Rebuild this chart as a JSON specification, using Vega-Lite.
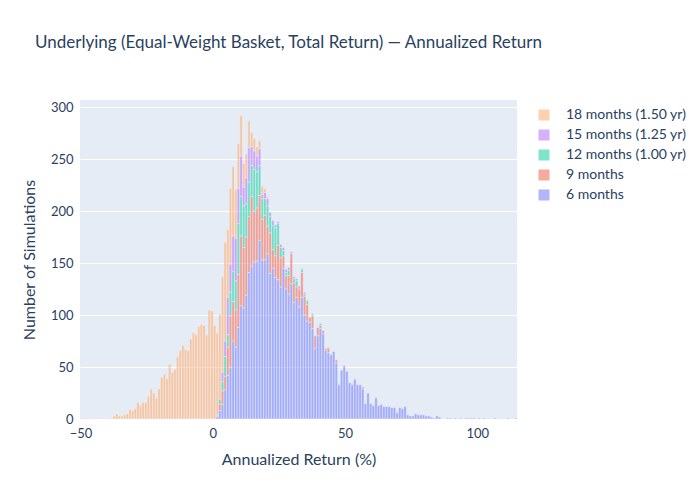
{
  "$schema": "https://vega.github.io/schema/vega-lite/v6.json",
  "width": 437,
  "height": 319,
  "autosize": {"type": "none"},
  "padding": {"left": 80, "top": 100, "right": 183, "bottom": 81},
  "background": "white",
  "title": {
    "text": "Underlying (Equal-Weight Basket, Total Return) — Annualized Return",
    "anchor": "start",
    "frame": "group",
    "dx": -45,
    "offset": 48,
    "fontSize": 17,
    "fontWeight": "normal",
    "color": "#2a3f5f"
  },
  "data": {
    "values": [
      {"series": "18 months (1.50 yr)", "months": 18, "bin": -50, "count": 1},
      {"series": "18 months (1.50 yr)", "months": 18, "bin": -49, "count": 1},
      {"series": "18 months (1.50 yr)", "months": 18, "bin": -45, "count": 1},
      {"series": "18 months (1.50 yr)", "months": 18, "bin": -43, "count": 1},
      {"series": "18 months (1.50 yr)", "months": 18, "bin": -39, "count": 1},
      {"series": "18 months (1.50 yr)", "months": 18, "bin": -38, "count": 3},
      {"series": "18 months (1.50 yr)", "months": 18, "bin": -37, "count": 5},
      {"series": "18 months (1.50 yr)", "months": 18, "bin": -36, "count": 3},
      {"series": "18 months (1.50 yr)", "months": 18, "bin": -35, "count": 3},
      {"series": "18 months (1.50 yr)", "months": 18, "bin": -34, "count": 4},
      {"series": "18 months (1.50 yr)", "months": 18, "bin": -33, "count": 5},
      {"series": "18 months (1.50 yr)", "months": 18, "bin": -32, "count": 9},
      {"series": "18 months (1.50 yr)", "months": 18, "bin": -31, "count": 8},
      {"series": "18 months (1.50 yr)", "months": 18, "bin": -30, "count": 10},
      {"series": "18 months (1.50 yr)", "months": 18, "bin": -29, "count": 16},
      {"series": "18 months (1.50 yr)", "months": 18, "bin": -28, "count": 13},
      {"series": "18 months (1.50 yr)", "months": 18, "bin": -27, "count": 16},
      {"series": "18 months (1.50 yr)", "months": 18, "bin": -26, "count": 16},
      {"series": "18 months (1.50 yr)", "months": 18, "bin": -25, "count": 22},
      {"series": "18 months (1.50 yr)", "months": 18, "bin": -24, "count": 29},
      {"series": "18 months (1.50 yr)", "months": 18, "bin": -23, "count": 25},
      {"series": "18 months (1.50 yr)", "months": 18, "bin": -22, "count": 20},
      {"series": "18 months (1.50 yr)", "months": 18, "bin": -21, "count": 29},
      {"series": "18 months (1.50 yr)", "months": 18, "bin": -20, "count": 40},
      {"series": "18 months (1.50 yr)", "months": 18, "bin": -19, "count": 43},
      {"series": "18 months (1.50 yr)", "months": 18, "bin": -18, "count": 39},
      {"series": "18 months (1.50 yr)", "months": 18, "bin": -17, "count": 53},
      {"series": "18 months (1.50 yr)", "months": 18, "bin": -16, "count": 45},
      {"series": "18 months (1.50 yr)", "months": 18, "bin": -15, "count": 48},
      {"series": "18 months (1.50 yr)", "months": 18, "bin": -14, "count": 60},
      {"series": "18 months (1.50 yr)", "months": 18, "bin": -13, "count": 66},
      {"series": "18 months (1.50 yr)", "months": 18, "bin": -12, "count": 71},
      {"series": "18 months (1.50 yr)", "months": 18, "bin": -11, "count": 67},
      {"series": "18 months (1.50 yr)", "months": 18, "bin": -10, "count": 66},
      {"series": "18 months (1.50 yr)", "months": 18, "bin": -9, "count": 77},
      {"series": "18 months (1.50 yr)", "months": 18, "bin": -8, "count": 83},
      {"series": "18 months (1.50 yr)", "months": 18, "bin": -7, "count": 81},
      {"series": "18 months (1.50 yr)", "months": 18, "bin": -6, "count": 89},
      {"series": "18 months (1.50 yr)", "months": 18, "bin": -5, "count": 91},
      {"series": "18 months (1.50 yr)", "months": 18, "bin": -4, "count": 90},
      {"series": "18 months (1.50 yr)", "months": 18, "bin": -3, "count": 81},
      {"series": "18 months (1.50 yr)", "months": 18, "bin": -2, "count": 105},
      {"series": "18 months (1.50 yr)", "months": 18, "bin": -1, "count": 104},
      {"series": "18 months (1.50 yr)", "months": 18, "bin": 0, "count": 90},
      {"series": "18 months (1.50 yr)", "months": 18, "bin": 1, "count": 79},
      {"series": "18 months (1.50 yr)", "months": 18, "bin": 2, "count": 82},
      {"series": "18 months (1.50 yr)", "months": 18, "bin": 3, "count": 92},
      {"series": "18 months (1.50 yr)", "months": 18, "bin": 4, "count": 95},
      {"series": "18 months (1.50 yr)", "months": 18, "bin": 5, "count": 65},
      {"series": "18 months (1.50 yr)", "months": 18, "bin": 6, "count": 73},
      {"series": "18 months (1.50 yr)", "months": 18, "bin": 7, "count": 67},
      {"series": "18 months (1.50 yr)", "months": 18, "bin": 8, "count": 47},
      {"series": "18 months (1.50 yr)", "months": 18, "bin": 9, "count": 43},
      {"series": "18 months (1.50 yr)", "months": 18, "bin": 10, "count": 39},
      {"series": "18 months (1.50 yr)", "months": 18, "bin": 11, "count": 23},
      {"series": "18 months (1.50 yr)", "months": 18, "bin": 12, "count": 23},
      {"series": "18 months (1.50 yr)", "months": 18, "bin": 13, "count": 26},
      {"series": "18 months (1.50 yr)", "months": 18, "bin": 14, "count": 14},
      {"series": "18 months (1.50 yr)", "months": 18, "bin": 15, "count": 12},
      {"series": "18 months (1.50 yr)", "months": 18, "bin": 16, "count": 9},
      {"series": "18 months (1.50 yr)", "months": 18, "bin": 17, "count": 8},
      {"series": "18 months (1.50 yr)", "months": 18, "bin": 18, "count": 8},
      {"series": "18 months (1.50 yr)", "months": 18, "bin": 19, "count": 4},
      {"series": "18 months (1.50 yr)", "months": 18, "bin": 20, "count": 2},

      {"series": "15 months (1.25 yr)", "months": 15, "bin": 3, "count": 9},
      {"series": "15 months (1.25 yr)", "months": 15, "bin": 4, "count": 15},
      {"series": "15 months (1.25 yr)", "months": 15, "bin": 5, "count": 36},
      {"series": "15 months (1.25 yr)", "months": 15, "bin": 6, "count": 27},
      {"series": "15 months (1.25 yr)", "months": 15, "bin": 7, "count": 34},
      {"series": "15 months (1.25 yr)", "months": 15, "bin": 8, "count": 41},
      {"series": "15 months (1.25 yr)", "months": 15, "bin": 9, "count": 34},
      {"series": "15 months (1.25 yr)", "months": 15, "bin": 10, "count": 39},
      {"series": "15 months (1.25 yr)", "months": 15, "bin": 11, "count": 18},
      {"series": "15 months (1.25 yr)", "months": 15, "bin": 12, "count": 25},
      {"series": "15 months (1.25 yr)", "months": 15, "bin": 13, "count": 33},
      {"series": "15 months (1.25 yr)", "months": 15, "bin": 14, "count": 18},
      {"series": "15 months (1.25 yr)", "months": 15, "bin": 15, "count": 18},
      {"series": "15 months (1.25 yr)", "months": 15, "bin": 16, "count": 15},
      {"series": "15 months (1.25 yr)", "months": 15, "bin": 17, "count": 16},
      {"series": "15 months (1.25 yr)", "months": 15, "bin": 18, "count": 4},
      {"series": "15 months (1.25 yr)", "months": 15, "bin": 19, "count": 6},
      {"series": "15 months (1.25 yr)", "months": 15, "bin": 20, "count": 7},
      {"series": "15 months (1.25 yr)", "months": 15, "bin": 21, "count": 4},
      {"series": "15 months (1.25 yr)", "months": 15, "bin": 22, "count": 5},
      {"series": "15 months (1.25 yr)", "months": 15, "bin": 23, "count": 3},
      {"series": "15 months (1.25 yr)", "months": 15, "bin": 24, "count": 2},
      {"series": "15 months (1.25 yr)", "months": 15, "bin": 25, "count": 3},
      {"series": "15 months (1.25 yr)", "months": 15, "bin": 26, "count": 3},
      {"series": "15 months (1.25 yr)", "months": 15, "bin": 27, "count": 3},
      {"series": "15 months (1.25 yr)", "months": 15, "bin": 28, "count": 3},
      {"series": "15 months (1.25 yr)", "months": 15, "bin": 29, "count": 2},
      {"series": "15 months (1.25 yr)", "months": 15, "bin": 30, "count": 2},
      {"series": "15 months (1.25 yr)", "months": 15, "bin": 31, "count": 2},
      {"series": "15 months (1.25 yr)", "months": 15, "bin": 32, "count": 3},
      {"series": "15 months (1.25 yr)", "months": 15, "bin": 33, "count": 1},
      {"series": "15 months (1.25 yr)", "months": 15, "bin": 34, "count": 2},
      {"series": "15 months (1.25 yr)", "months": 15, "bin": 35, "count": 1},
      {"series": "15 months (1.25 yr)", "months": 15, "bin": 37, "count": 1},

      {"series": "12 months (1.00 yr)", "months": 12, "bin": 1, "count": 1},
      {"series": "12 months (1.00 yr)", "months": 12, "bin": 2, "count": 5},
      {"series": "12 months (1.00 yr)", "months": 12, "bin": 3, "count": 9},
      {"series": "12 months (1.00 yr)", "months": 12, "bin": 4, "count": 19},
      {"series": "12 months (1.00 yr)", "months": 12, "bin": 5, "count": 12},
      {"series": "12 months (1.00 yr)", "months": 12, "bin": 6, "count": 23},
      {"series": "12 months (1.00 yr)", "months": 12, "bin": 7, "count": 29},
      {"series": "12 months (1.00 yr)", "months": 12, "bin": 8, "count": 28},
      {"series": "12 months (1.00 yr)", "months": 12, "bin": 9, "count": 49},
      {"series": "12 months (1.00 yr)", "months": 12, "bin": 10, "count": 38},
      {"series": "12 months (1.00 yr)", "months": 12, "bin": 11, "count": 40},
      {"series": "12 months (1.00 yr)", "months": 12, "bin": 12, "count": 32},
      {"series": "12 months (1.00 yr)", "months": 12, "bin": 13, "count": 33},
      {"series": "12 months (1.00 yr)", "months": 12, "bin": 14, "count": 30},
      {"series": "12 months (1.00 yr)", "months": 12, "bin": 15, "count": 40},
      {"series": "12 months (1.00 yr)", "months": 12, "bin": 16, "count": 35},
      {"series": "12 months (1.00 yr)", "months": 12, "bin": 17, "count": 29},
      {"series": "12 months (1.00 yr)", "months": 12, "bin": 18, "count": 20},
      {"series": "12 months (1.00 yr)", "months": 12, "bin": 19, "count": 16},
      {"series": "12 months (1.00 yr)", "months": 12, "bin": 20, "count": 20},
      {"series": "12 months (1.00 yr)", "months": 12, "bin": 21, "count": 16},
      {"series": "12 months (1.00 yr)", "months": 12, "bin": 22, "count": 23},
      {"series": "12 months (1.00 yr)", "months": 12, "bin": 23, "count": 27},
      {"series": "12 months (1.00 yr)", "months": 12, "bin": 24, "count": 21},
      {"series": "12 months (1.00 yr)", "months": 12, "bin": 25, "count": 10},
      {"series": "12 months (1.00 yr)", "months": 12, "bin": 26, "count": 5},
      {"series": "12 months (1.00 yr)", "months": 12, "bin": 27, "count": 3},
      {"series": "12 months (1.00 yr)", "months": 12, "bin": 28, "count": 5},
      {"series": "12 months (1.00 yr)", "months": 12, "bin": 30, "count": 4},
      {"series": "12 months (1.00 yr)", "months": 12, "bin": 31, "count": 6},
      {"series": "12 months (1.00 yr)", "months": 12, "bin": 33, "count": 3},
      {"series": "12 months (1.00 yr)", "months": 12, "bin": 34, "count": 2},
      {"series": "12 months (1.00 yr)", "months": 12, "bin": 35, "count": 4},
      {"series": "12 months (1.00 yr)", "months": 12, "bin": 37, "count": 2},
      {"series": "12 months (1.00 yr)", "months": 12, "bin": 40, "count": 2},
      {"series": "12 months (1.00 yr)", "months": 12, "bin": 43, "count": 1},
      {"series": "12 months (1.00 yr)", "months": 12, "bin": 47, "count": 1},
      {"series": "12 months (1.00 yr)", "months": 12, "bin": 52, "count": 1},

      {"series": "9 months", "months": 9, "bin": 1, "count": 1},
      {"series": "9 months", "months": 9, "bin": 2, "count": 6},
      {"series": "9 months", "months": 9, "bin": 3, "count": 13},
      {"series": "9 months", "months": 9, "bin": 4, "count": 13},
      {"series": "9 months", "months": 9, "bin": 5, "count": 27},
      {"series": "9 months", "months": 9, "bin": 6, "count": 49},
      {"series": "9 months", "months": 9, "bin": 7, "count": 38},
      {"series": "9 months", "months": 9, "bin": 8, "count": 36},
      {"series": "9 months", "months": 9, "bin": 9, "count": 51},
      {"series": "9 months", "months": 9, "bin": 10, "count": 67},
      {"series": "9 months", "months": 9, "bin": 11, "count": 58},
      {"series": "9 months", "months": 9, "bin": 12, "count": 56},
      {"series": "9 months", "months": 9, "bin": 13, "count": 54},
      {"series": "9 months", "months": 9, "bin": 14, "count": 67},
      {"series": "9 months", "months": 9, "bin": 15, "count": 49},
      {"series": "9 months", "months": 9, "bin": 16, "count": 51},
      {"series": "9 months", "months": 9, "bin": 17, "count": 43},
      {"series": "9 months", "months": 9, "bin": 18, "count": 39},
      {"series": "9 months", "months": 9, "bin": 19, "count": 43},
      {"series": "9 months", "months": 9, "bin": 20, "count": 26},
      {"series": "9 months", "months": 9, "bin": 21, "count": 39},
      {"series": "9 months", "months": 9, "bin": 22, "count": 18},
      {"series": "9 months", "months": 9, "bin": 23, "count": 21},
      {"series": "9 months", "months": 9, "bin": 24, "count": 33},
      {"series": "9 months", "months": 9, "bin": 25, "count": 28},
      {"series": "9 months", "months": 9, "bin": 26, "count": 12},
      {"series": "9 months", "months": 9, "bin": 27, "count": 13},
      {"series": "9 months", "months": 9, "bin": 28, "count": 18},
      {"series": "9 months", "months": 9, "bin": 29, "count": 29},
      {"series": "9 months", "months": 9, "bin": 30, "count": 19},
      {"series": "9 months", "months": 9, "bin": 31, "count": 10},
      {"series": "9 months", "months": 9, "bin": 32, "count": 17},
      {"series": "9 months", "months": 9, "bin": 33, "count": 24},
      {"series": "9 months", "months": 9, "bin": 34, "count": 18},
      {"series": "9 months", "months": 9, "bin": 35, "count": 16},
      {"series": "9 months", "months": 9, "bin": 36, "count": 5},
      {"series": "9 months", "months": 9, "bin": 37, "count": 12},
      {"series": "9 months", "months": 9, "bin": 38, "count": 12},
      {"series": "9 months", "months": 9, "bin": 39, "count": 8},
      {"series": "9 months", "months": 9, "bin": 40, "count": 3},
      {"series": "9 months", "months": 9, "bin": 41, "count": 3},
      {"series": "9 months", "months": 9, "bin": 42, "count": 2},
      {"series": "9 months", "months": 9, "bin": 43, "count": 4},
      {"series": "9 months", "months": 9, "bin": 46, "count": 3},
      {"series": "9 months", "months": 9, "bin": 49, "count": 1},
      {"series": "9 months", "months": 9, "bin": 53, "count": 1},
      {"series": "9 months", "months": 9, "bin": 56, "count": 2},
      {"series": "9 months", "months": 9, "bin": 61, "count": 1},

      {"series": "6 months", "months": 6, "bin": 1, "count": 2},
      {"series": "6 months", "months": 6, "bin": 2, "count": 8},
      {"series": "6 months", "months": 6, "bin": 3, "count": 14},
      {"series": "6 months", "months": 6, "bin": 4, "count": 28},
      {"series": "6 months", "months": 6, "bin": 5, "count": 42},
      {"series": "6 months", "months": 6, "bin": 6, "count": 50},
      {"series": "6 months", "months": 6, "bin": 7, "count": 75},
      {"series": "6 months", "months": 6, "bin": 8, "count": 69},
      {"series": "6 months", "months": 6, "bin": 9, "count": 88},
      {"series": "6 months", "months": 6, "bin": 10, "count": 109},
      {"series": "6 months", "months": 6, "bin": 11, "count": 107},
      {"series": "6 months", "months": 6, "bin": 12, "count": 119},
      {"series": "6 months", "months": 6, "bin": 13, "count": 141},
      {"series": "6 months", "months": 6, "bin": 14, "count": 147},
      {"series": "6 months", "months": 6, "bin": 15, "count": 151},
      {"series": "6 months", "months": 6, "bin": 16, "count": 152},
      {"series": "6 months", "months": 6, "bin": 17, "count": 172},
      {"series": "6 months", "months": 6, "bin": 18, "count": 153},
      {"series": "6 months", "months": 6, "bin": 19, "count": 153},
      {"series": "6 months", "months": 6, "bin": 20, "count": 159},
      {"series": "6 months", "months": 6, "bin": 21, "count": 140},
      {"series": "6 months", "months": 6, "bin": 22, "count": 145},
      {"series": "6 months", "months": 6, "bin": 23, "count": 136},
      {"series": "6 months", "months": 6, "bin": 24, "count": 134},
      {"series": "6 months", "months": 6, "bin": 25, "count": 127},
      {"series": "6 months", "months": 6, "bin": 26, "count": 145},
      {"series": "6 months", "months": 6, "bin": 27, "count": 125},
      {"series": "6 months", "months": 6, "bin": 28, "count": 120},
      {"series": "6 months", "months": 6, "bin": 29, "count": 130},
      {"series": "6 months", "months": 6, "bin": 30, "count": 112},
      {"series": "6 months", "months": 6, "bin": 31, "count": 117},
      {"series": "6 months", "months": 6, "bin": 32, "count": 108},
      {"series": "6 months", "months": 6, "bin": 33, "count": 117},
      {"series": "6 months", "months": 6, "bin": 34, "count": 100},
      {"series": "6 months", "months": 6, "bin": 35, "count": 94},
      {"series": "6 months", "months": 6, "bin": 36, "count": 93},
      {"series": "6 months", "months": 6, "bin": 37, "count": 87},
      {"series": "6 months", "months": 6, "bin": 38, "count": 68},
      {"series": "6 months", "months": 6, "bin": 39, "count": 80},
      {"series": "6 months", "months": 6, "bin": 40, "count": 87},
      {"series": "6 months", "months": 6, "bin": 41, "count": 82},
      {"series": "6 months", "months": 6, "bin": 42, "count": 66},
      {"series": "6 months", "months": 6, "bin": 43, "count": 64},
      {"series": "6 months", "months": 6, "bin": 44, "count": 62},
      {"series": "6 months", "months": 6, "bin": 45, "count": 65},
      {"series": "6 months", "months": 6, "bin": 46, "count": 54},
      {"series": "6 months", "months": 6, "bin": 47, "count": 33},
      {"series": "6 months", "months": 6, "bin": 48, "count": 47},
      {"series": "6 months", "months": 6, "bin": 49, "count": 51},
      {"series": "6 months", "months": 6, "bin": 50, "count": 46},
      {"series": "6 months", "months": 6, "bin": 51, "count": 35},
      {"series": "6 months", "months": 6, "bin": 52, "count": 33},
      {"series": "6 months", "months": 6, "bin": 53, "count": 38},
      {"series": "6 months", "months": 6, "bin": 54, "count": 33},
      {"series": "6 months", "months": 6, "bin": 55, "count": 33},
      {"series": "6 months", "months": 6, "bin": 56, "count": 29},
      {"series": "6 months", "months": 6, "bin": 57, "count": 15},
      {"series": "6 months", "months": 6, "bin": 58, "count": 25},
      {"series": "6 months", "months": 6, "bin": 59, "count": 15},
      {"series": "6 months", "months": 6, "bin": 60, "count": 13},
      {"series": "6 months", "months": 6, "bin": 61, "count": 20},
      {"series": "6 months", "months": 6, "bin": 62, "count": 13},
      {"series": "6 months", "months": 6, "bin": 63, "count": 14},
      {"series": "6 months", "months": 6, "bin": 64, "count": 12},
      {"series": "6 months", "months": 6, "bin": 65, "count": 12},
      {"series": "6 months", "months": 6, "bin": 66, "count": 12},
      {"series": "6 months", "months": 6, "bin": 67, "count": 11},
      {"series": "6 months", "months": 6, "bin": 68, "count": 11},
      {"series": "6 months", "months": 6, "bin": 69, "count": 6},
      {"series": "6 months", "months": 6, "bin": 70, "count": 11},
      {"series": "6 months", "months": 6, "bin": 71, "count": 10},
      {"series": "6 months", "months": 6, "bin": 72, "count": 12},
      {"series": "6 months", "months": 6, "bin": 73, "count": 4},
      {"series": "6 months", "months": 6, "bin": 74, "count": 3},
      {"series": "6 months", "months": 6, "bin": 75, "count": 3},
      {"series": "6 months", "months": 6, "bin": 76, "count": 5},
      {"series": "6 months", "months": 6, "bin": 77, "count": 4},
      {"series": "6 months", "months": 6, "bin": 78, "count": 4},
      {"series": "6 months", "months": 6, "bin": 79, "count": 4},
      {"series": "6 months", "months": 6, "bin": 80, "count": 3},
      {"series": "6 months", "months": 6, "bin": 81, "count": 3},
      {"series": "6 months", "months": 6, "bin": 82, "count": 2},
      {"series": "6 months", "months": 6, "bin": 83, "count": 1},
      {"series": "6 months", "months": 6, "bin": 84, "count": 3},
      {"series": "6 months", "months": 6, "bin": 85, "count": 2},
      {"series": "6 months", "months": 6, "bin": 88, "count": 1},
      {"series": "6 months", "months": 6, "bin": 89, "count": 1},
      {"series": "6 months", "months": 6, "bin": 91, "count": 1},
      {"series": "6 months", "months": 6, "bin": 93, "count": 1},
      {"series": "6 months", "months": 6, "bin": 95, "count": 1},
      {"series": "6 months", "months": 6, "bin": 96, "count": 1},
      {"series": "6 months", "months": 6, "bin": 97, "count": 1},
      {"series": "6 months", "months": 6, "bin": 98, "count": 1},
      {"series": "6 months", "months": 6, "bin": 100, "count": 1},
      {"series": "6 months", "months": 6, "bin": 102, "count": 1},
      {"series": "6 months", "months": 6, "bin": 106, "count": 1},
      {"series": "6 months", "months": 6, "bin": 111, "count": 1},
      {"series": "6 months", "months": 6, "bin": 114, "count": 1}
    ]
  },
  "mark": {"type": "bar", "opacity": 0.5, "stroke": "white", "strokeWidth": 0.5, "clip": true, "binSpacing": 0},
  "encoding": {
    "x": {
      "field": "bin",
      "type": "quantitative",
      "bin": {"binned": true, "step": 1},
      "title": "Annualized Return (%)",
      "scale": {"domain": [-50.2, 115], "nice": false, "zero": false},
      "axis": {
        "values": [-50, 0, 50, 100],
        "ticks": false,
        "domain": false,
        "grid": false,
        "labelFontSize": 13,
        "labelColor": "#2a3f5f",
        "labelPadding": 8,
        "labelFlush": false,
        "titleFontSize": 16,
        "titleFontWeight": "normal",
        "titleColor": "#2a3f5f",
        "titlePadding": 11
      }
    },
    "y": {
      "field": "count",
      "type": "quantitative",
      "stack": "zero",
      "title": "Number of Simulations",
      "scale": {"domain": [0, 307], "nice": false},
      "axis": {
        "values": [0, 50, 100, 150, 200, 250, 300],
        "ticks": false,
        "domain": false,
        "gridColor": "white",
        "gridWidth": 1,
        "labelFontSize": 13,
        "labelColor": "#2a3f5f",
        "labelPadding": 7,
        "titleFontSize": 16,
        "titleFontWeight": "normal",
        "titleColor": "#2a3f5f",
        "titlePadding": 13
      }
    },
    "order": {"field": "months", "type": "quantitative", "sort": "ascending"},
    "color": {
      "field": "series",
      "type": "nominal",
      "scale": {
        "domain": ["18 months (1.50 yr)", "15 months (1.25 yr)", "12 months (1.00 yr)", "9 months", "6 months"],
        "range": ["#FFA15A", "#AB63FA", "#00CC96", "#EF553B", "#636EFA"]
      },
      "legend": {
        "orient": "none",
        "legendX": 457,
        "legendY": 8,
        "title": null,
        "symbolType": "square",
        "symbolSize": 121,
        "symbolStrokeWidth": 0,
        "labelFontSize": 14,
        "labelColor": "#2a3f5f",
        "labelOffset": 15,
        "rowPadding": 6
      }
    }
  },
  "config": {
    "font": "Lato",
    "view": {"fill": "#e5ecf6", "stroke": null}
  }
}
